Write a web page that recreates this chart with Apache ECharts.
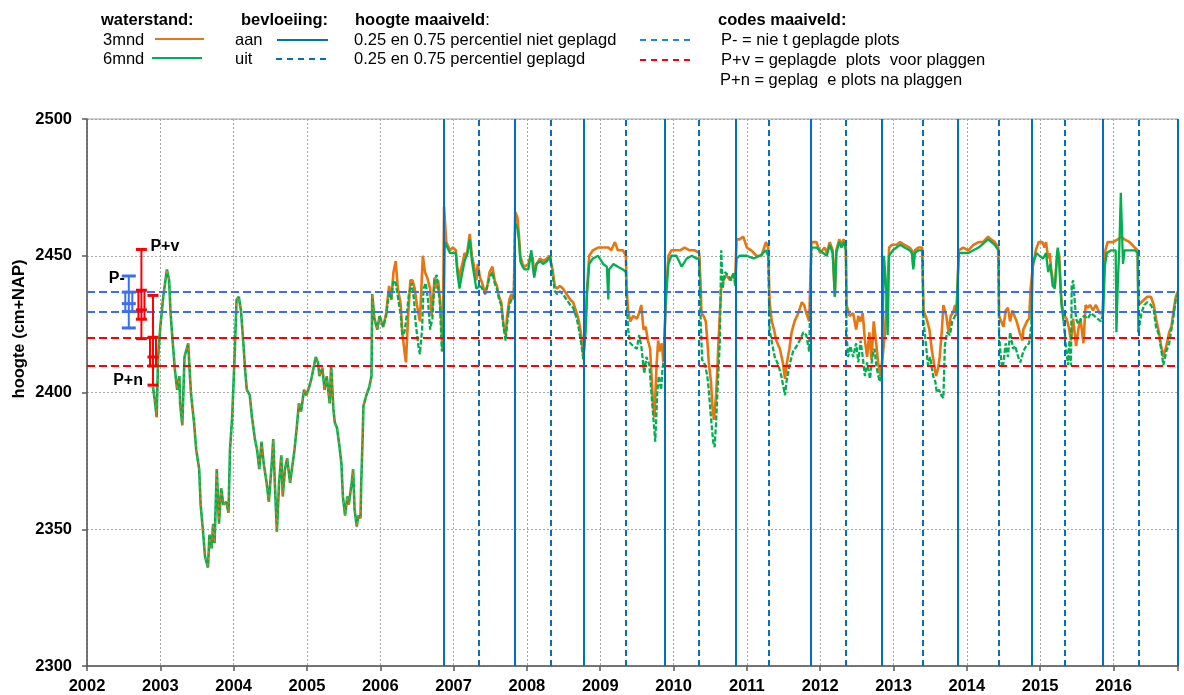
<!DOCTYPE html>
<html>
<head>
<meta charset="utf-8">
<title>waterstand</title>
<script src="https://cdn.jsdelivr.net/npm/echarts@6/dist/echarts.min.js"></script>
<style>
  html, body { margin: 0; padding: 0; background: #fff; }
  #chart { width: 1184px; height: 695px; }
</style>
</head>
<body>
<div id="chart"></div>
<script>
// 2002-2006: 3mnd en 6mnd vallen samen
var earlyLevel = [
  [2002.90,2402],[2002.93,2396],[2002.95,2391],[2002.97,2413],[2003.00,2424],[2003.04,2435],[2003.09,2445],
  [2003.12,2441],[2003.14,2429],[2003.17,2418],[2003.20,2408],[2003.23,2401],[2003.26,2406],[2003.27,2396],
  [2003.30,2388],[2003.33,2413],[2003.38,2418],[2003.40,2408],[2003.42,2399],[2003.46,2389],[2003.49,2379],
  [2003.53,2372],[2003.55,2359],[2003.58,2350],[2003.61,2340],[2003.65,2336],[2003.67,2348],[2003.70,2343],
  [2003.72,2352],[2003.74,2345],[2003.77,2372],[2003.80,2352],[2003.83,2365],[2003.86,2359],[2003.90,2360],
  [2003.93,2356],[2003.95,2379],[2003.98,2391],[2004.01,2411],[2004.04,2434],[2004.07,2435],[2004.10,2430],
  [2004.13,2419],[2004.16,2407],[2004.18,2401],[2004.22,2399],[2004.25,2391],[2004.29,2383],[2004.32,2379],
  [2004.35,2372],[2004.38,2382],[2004.41,2374],[2004.45,2367],[2004.48,2360],[2004.52,2374],[2004.54,2383],
  [2004.56,2368],[2004.59,2349],[2004.62,2367],[2004.65,2377],[2004.67,2362],[2004.70,2372],[2004.73,2376],
  [2004.77,2367],[2004.80,2373],[2004.83,2379],[2004.86,2387],[2004.89,2396],[2004.92,2393],[2004.96,2401],
  [2004.99,2399],[2005.03,2402],[2005.06,2405],[2005.09,2409],[2005.12,2413],[2005.15,2411],[2005.17,2406],
  [2005.21,2409],[2005.24,2401],[2005.27,2406],[2005.31,2396],[2005.33,2410],[2005.36,2394],[2005.38,2389],
  [2005.41,2387],[2005.44,2381],[2005.47,2374],[2005.49,2362],[2005.52,2355],[2005.55,2362],[2005.57,2359],
  [2005.61,2367],[2005.63,2372],[2005.65,2357],[2005.68,2351],[2005.70,2355],[2005.73,2354],[2005.74,2367],
  [2005.76,2384],[2005.77,2395],[2005.81,2399],[2005.85,2402],[2005.88,2406],[2005.89,2436],[2005.92,2427],
  [2005.96,2423],[2005.99,2428]
];

// waterstand 3mnd vanaf 2006
var level3mnd = [
  [2005.99,2428],[2006.04,2424],[2006.08,2429],[2006.12,2439],[2006.15,2434],[2006.18,2444],[2006.21,2448],
  [2006.24,2438],[2006.28,2432],[2006.30,2422],[2006.33,2415],[2006.35,2411],[2006.38,2428],[2006.41,2441],
  [2006.44,2441],[2006.47,2438],[2006.50,2432],[2006.54,2426],[2006.58,2450],[2006.61,2444],[2006.64,2442],
  [2006.68,2438],[2006.70,2428],[2006.72,2434],[2006.74,2442],[2006.77,2438],[2006.79,2441],[2006.81,2435],
  [2006.83,2428],[2006.85,2415],
  [2006.87,2468],[2006.90,2455],[2006.95,2452],[2006.99,2453],[2007.03,2452],[2007.05,2446],[2007.08,2441],
  [2007.09,2444],[2007.12,2447],[2007.15,2451],[2007.18,2450],[2007.22,2458],[2007.25,2450],[2007.28,2446],
  [2007.31,2441],[2007.33,2447],[2007.36,2442],[2007.39,2440],[2007.43,2436],[2007.46,2439],[2007.49,2444],
  [2007.53,2446],[2007.56,2441],[2007.59,2439],[2007.62,2435],[2007.65,2433],[2007.68,2425],[2007.71,2421],
  [2007.73,2428],[2007.76,2434],[2007.79,2436],[2007.82,2434],
  [2007.84,2466],[2007.87,2464],[2007.89,2458],[2007.91,2450],[2007.94,2447],[2007.97,2446],[2008.02,2447],
  [2008.06,2451],[2008.08,2449],[2008.10,2443],[2008.13,2447],[2008.18,2449],[2008.22,2448],[2008.27,2449],
  [2008.30,2450],[2008.32,2450],[2008.35,2445],[2008.38,2439],[2008.41,2438],[2008.45,2439],[2008.49,2438],
  [2008.54,2436],[2008.59,2434],[2008.63,2433],[2008.68,2429],[2008.71,2426],[2008.74,2421],[2008.77,2413],
  [2008.80,2425],[2008.82,2438],[2008.85,2450],[2008.90,2452],[2008.97,2453],[2009.04,2453],[2009.11,2453],
  [2009.15,2452],[2009.20,2455],[2009.24,2452],[2009.31,2452],[2009.35,2450],
  [2009.36,2438],[2009.38,2430],[2009.41,2426],[2009.45,2428],[2009.50,2427],[2009.53,2429],[2009.56,2432],
  [2009.59,2423],[2009.62,2424],[2009.65,2419],[2009.68,2416],[2009.70,2406],[2009.72,2396],[2009.74,2391],
  [2009.77,2411],[2009.79,2419],[2009.81,2415],[2009.84,2418],[2009.86,2411],[2009.88,2423],
  [2009.90,2438],[2009.93,2450],[2009.97,2452],[2010.02,2452],[2010.09,2452],[2010.15,2453],[2010.22,2452],
  [2010.29,2452],[2010.35,2451],
  [2010.37,2439],[2010.38,2429],[2010.41,2428],[2010.44,2426],[2010.46,2419],[2010.48,2411],[2010.51,2404],
  [2010.53,2395],[2010.55,2390],[2010.58,2399],[2010.60,2410],[2010.61,2417],[2010.63,2428],[2010.65,2438],
  [2010.68,2441],[2010.72,2443],[2010.77,2441],[2010.81,2443],[2010.84,2441],
  [2010.86,2456],[2010.90,2456],[2010.95,2457],[2011.00,2453],[2011.06,2452],[2011.13,2450],[2011.20,2450],
  [2011.26,2455],[2011.29,2453],
  [2011.31,2433],[2011.34,2426],[2011.37,2423],[2011.40,2419],[2011.45,2416],[2011.49,2411],[2011.52,2405],
  [2011.54,2410],[2011.58,2416],[2011.61,2422],[2011.65,2426],[2011.70,2429],[2011.75,2433],[2011.78,2432],
  [2011.81,2429],[2011.85,2426],
  [2011.88,2455],[2011.95,2455],[2012.00,2451],[2012.06,2453],[2012.09,2451],[2012.13,2455],[2012.17,2452],
  [2012.20,2435],[2012.22,2452],[2012.26,2456],[2012.29,2454],[2012.32,2456],[2012.35,2453],
  [2012.36,2432],[2012.40,2428],[2012.45,2429],[2012.49,2423],[2012.52,2428],[2012.55,2426],[2012.58,2429],
  [2012.61,2419],[2012.64,2413],[2012.67,2422],[2012.70,2412],[2012.73,2426],[2012.76,2419],[2012.79,2411],
  [2012.82,2406],[2012.84,2410],[2012.88,2421],[2012.92,2440],[2012.94,2453],[2012.98,2454],
  [2013.04,2454],[2013.09,2455],[2013.15,2454],[2013.22,2453],[2013.25,2452],[2013.27,2446],[2013.29,2452],
  [2013.34,2453],[2013.39,2453],
  [2013.41,2430],[2013.45,2427],[2013.49,2423],[2013.52,2416],[2013.55,2411],[2013.58,2406],[2013.61,2409],
  [2013.63,2413],[2013.66,2423],[2013.68,2432],[2013.72,2428],[2013.75,2422],[2013.78,2428],[2013.81,2429],
  [2013.84,2432],[2013.86,2428],
  [2013.89,2452],[2013.95,2453],[2014.02,2452],[2014.09,2454],[2014.16,2455],[2014.22,2455],[2014.29,2457],
  [2014.33,2456],[2014.38,2455],[2014.43,2453],
  [2014.44,2428],[2014.47,2426],[2014.50,2424],[2014.53,2430],[2014.56,2431],[2014.59,2426],[2014.62,2430],
  [2014.65,2428],[2014.68,2426],[2014.72,2422],[2014.76,2419],[2014.77,2423],[2014.82,2426],[2014.85,2427],
  [2014.87,2438],
  [2014.90,2446],[2014.94,2452],[2014.98,2455],[2015.03,2455],[2015.06,2453],[2015.08,2455],[2015.11,2449],
  [2015.13,2451],[2015.15,2445],[2015.18,2440],[2015.20,2439],[2015.22,2446],[2015.24,2452],[2015.26,2450],
  [2015.29,2434],[2015.31,2430],[2015.33,2428],[2015.36,2427],[2015.39,2424],[2015.42,2419],[2015.45,2427],
  [2015.49,2417],[2015.52,2423],[2015.55,2427],[2015.59,2418],[2015.62,2432],[2015.65,2431],[2015.68,2432],
  [2015.72,2430],[2015.76,2432],[2015.81,2429],[2015.85,2429],
  [2015.87,2441],[2015.89,2452],[2015.92,2455],[2015.99,2455],[2016.06,2456],[2016.10,2457],[2016.15,2456],
  [2016.22,2455],[2016.29,2453],[2016.33,2452],
  [2016.34,2432],[2016.38,2433],[2016.42,2434],[2016.46,2435],[2016.51,2435],[2016.55,2432],[2016.58,2427],
  [2016.62,2422],[2016.65,2417],[2016.68,2413],[2016.72,2417],[2016.76,2422],[2016.79,2424],[2016.82,2430],
  [2016.85,2435],[2016.88,2437]
];

// waterstand 6mnd vanaf 2006
var level6mnd = [
  [2005.99,2428],[2006.04,2424],[2006.08,2428],[2006.12,2437],[2006.15,2434],[2006.18,2441],[2006.21,2440],
  [2006.24,2435],[2006.28,2428],[2006.30,2421],[2006.33,2422],[2006.36,2428],[2006.39,2436],[2006.43,2440],
  [2006.46,2434],[2006.48,2426],[2006.52,2417],[2006.54,2414],[2006.57,2423],[2006.59,2438],[2006.62,2440],
  [2006.65,2434],[2006.68,2423],[2006.71,2427],[2006.74,2441],[2006.77,2443],[2006.79,2438],[2006.81,2434],
  [2006.84,2415],[2006.86,2420],
  [2006.88,2455],[2006.95,2451],[2007.03,2451],[2007.05,2444],[2007.08,2438],[2007.12,2444],[2007.15,2448],
  [2007.19,2451],[2007.22,2456],[2007.25,2448],[2007.28,2443],[2007.31,2438],[2007.36,2439],[2007.39,2438],
  [2007.43,2436],[2007.46,2439],[2007.49,2442],[2007.53,2444],[2007.56,2440],[2007.59,2438],[2007.62,2434],
  [2007.65,2432],[2007.68,2424],[2007.71,2419],[2007.73,2425],[2007.76,2432],[2007.79,2434],[2007.82,2434],
  [2007.84,2462],[2007.87,2460],[2007.89,2456],[2007.91,2448],[2007.94,2446],[2007.97,2445],[2008.02,2445],
  [2008.06,2452],[2008.08,2446],[2008.10,2442],[2008.13,2447],[2008.18,2448],[2008.22,2447],[2008.27,2448],
  [2008.30,2449],[2008.32,2450],[2008.35,2443],[2008.38,2437],[2008.41,2436],[2008.45,2437],[2008.49,2436],
  [2008.54,2434],[2008.59,2432],[2008.63,2431],[2008.68,2427],[2008.71,2423],[2008.74,2418],[2008.77,2412],
  [2008.80,2422],[2008.82,2436],[2008.85,2447],[2008.90,2449],[2008.97,2450],[2009.04,2447],[2009.09,2446],
  [2009.10,2446],[2009.11,2434],[2009.12,2445],[2009.18,2447],[2009.24,2446],[2009.31,2445],[2009.35,2444],
  [2009.36,2434],[2009.38,2423],[2009.41,2418],[2009.45,2417],[2009.50,2416],[2009.53,2421],[2009.56,2417],
  [2009.60,2407],[2009.63,2413],[2009.67,2410],[2009.70,2399],[2009.73,2389],[2009.75,2382],[2009.78,2401],
  [2009.80,2406],[2009.83,2401],[2009.85,2409],[2009.87,2412],[2009.89,2432],
  [2009.93,2447],[2009.97,2450],[2010.04,2450],[2010.11,2446],[2010.18,2449],[2010.25,2450],[2010.31,2449],
  [2010.35,2449],
  [2010.37,2426],[2010.39,2412],[2010.43,2410],[2010.46,2406],[2010.48,2401],[2010.51,2391],[2010.54,2382],
  [2010.56,2380],[2010.58,2389],[2010.60,2401],[2010.63,2418],[2010.65,2452],[2010.67,2438],[2010.70,2444],
  [2010.74,2443],[2010.79,2441],[2010.82,2444],[2010.84,2439],
  [2010.86,2449],[2010.90,2450],[2011.00,2450],[2011.09,2449],[2011.18,2450],[2011.26,2452],[2011.29,2450],
  [2011.31,2423],[2011.35,2417],[2011.38,2413],[2011.43,2410],[2011.47,2406],[2011.52,2399],[2011.54,2404],
  [2011.59,2411],[2011.63,2415],[2011.68,2417],[2011.72,2419],[2011.77,2422],[2011.81,2421],[2011.85,2415],
  [2011.88,2453],[2011.95,2453],[2012.04,2451],[2012.09,2450],[2012.13,2454],[2012.17,2451],[2012.20,2435],
  [2012.22,2451],[2012.26,2455],[2012.29,2453],[2012.32,2455],[2012.35,2452],
  [2012.36,2421],[2012.38,2413],[2012.41,2417],[2012.45,2413],[2012.49,2418],[2012.52,2411],[2012.55,2419],
  [2012.58,2413],[2012.61,2406],[2012.64,2411],[2012.68,2405],[2012.71,2413],[2012.74,2416],[2012.77,2409],
  [2012.81,2404],[2012.84,2406],[2012.87,2450],[2012.90,2438],[2012.92,2421],[2012.94,2450],[2012.99,2452],
  [2013.04,2453],[2013.09,2454],[2013.15,2453],[2013.22,2452],[2013.25,2451],[2013.27,2445],[2013.29,2451],
  [2013.34,2452],[2013.39,2452],
  [2013.41,2426],[2013.44,2418],[2013.47,2410],[2013.50,2413],[2013.54,2406],[2013.57,2404],[2013.59,2400],
  [2013.62,2401],[2013.65,2399],[2013.68,2398],[2013.70,2417],[2013.73,2422],[2013.77,2421],[2013.80,2426],
  [2013.84,2428],[2013.86,2431],
  [2013.89,2451],[2014.02,2451],[2014.16,2453],[2014.29,2456],[2014.38,2454],[2014.43,2452],
  [2014.44,2421],[2014.47,2411],[2014.49,2409],[2014.53,2418],[2014.56,2413],[2014.59,2422],[2014.63,2416],
  [2014.66,2417],[2014.70,2413],[2014.73,2411],[2014.77,2415],[2014.81,2417],[2014.85,2418],[2014.88,2425],
  [2014.90,2447],[2014.95,2451],[2014.99,2450],[2015.04,2449],[2015.08,2451],[2015.11,2444],[2015.14,2447],
  [2015.17,2439],[2015.20,2438],[2015.23,2451],[2015.24,2453],[2015.26,2447],
  [2015.29,2432],[2015.32,2426],[2015.35,2417],[2015.38,2410],[2015.40,2419],[2015.42,2410],[2015.43,2439],
  [2015.45,2441],[2015.49,2427],[2015.52,2425],[2015.56,2427],[2015.60,2428],[2015.65,2427],[2015.69,2429],
  [2015.74,2428],[2015.78,2427],[2015.83,2426],[2015.86,2429],
  [2015.88,2446],[2015.91,2451],[2015.97,2452],[2016.03,2452],[2016.04,2422],[2016.06,2441],[2016.08,2453],
  [2016.10,2473],[2016.13,2447],[2016.15,2452],[2016.22,2452],[2016.29,2452],[2016.33,2451],
  [2016.34,2422],[2016.38,2429],[2016.42,2432],[2016.46,2433],[2016.51,2432],[2016.55,2430],[2016.58,2424],
  [2016.62,2421],[2016.65,2416],[2016.68,2410],[2016.72,2415],[2016.76,2418],[2016.79,2423],[2016.82,2428],
  [2016.85,2434],[2016.88,2436]
];

// bevloeiing aan / uit
var aanDates = [2006.865, 2007.835, 2008.777, 2009.878, 2010.848, 2011.866, 2012.84, 2013.874, 2014.884, 2015.86, 2016.876];
var uitDates = [2007.344, 2008.322, 2009.345, 2010.342, 2011.297, 2012.346, 2013.397, 2014.434, 2015.325, 2016.34];

// hoogte maaiveld (P-, P+v, P+n)
var mvCodes = ['P-', 'P+v', 'P+n'];
var mvX = [2002.57, 2002.742, 2002.90];
var mvMin = [2423.6, 2419.7, 2402.7];
var mvQ1 = [2429.6, 2426.8, 2409.7];
var mvMed = [2432.5, 2430.2, 2413.0];
var mvQ3 = [2436.7, 2437.4, 2420.2];
var mvMax = [2442.6, 2452.3, 2435.5];

var FONT = 'Liberation Sans, Arial, sans-serif';
var ORANGE = '#E8750F';
var GREEN = '#00B050';
var BLUE = '#0070C0';
var BLUE2 = '#3D6EF2';
var RED = '#FF0000';

// groene lijn: gestippeld in de "uit" periodes
function isUit(t) {
  if (t < aanDates[0]) return true;
  var last = 'aan', lt = -1;
  aanDates.forEach(function (d) { if (d <= t && d > lt) { lt = d; last = 'aan'; } });
  uitDates.forEach(function (d) { if (d <= t && d > lt) { lt = d; last = 'uit'; } });
  return last === 'uit';
}
function splitRuns(pts) {
  var solid = [], dashed = [], cur = null;
  for (var i = 1; i < pts.length; i++) {
    var d = isUit((pts[i - 1][0] + pts[i][0]) / 2);
    if (!cur || cur.d !== d) {
      if (cur) (cur.d ? dashed : solid).push([cur.last, null]);
      cur = { d: d };
      (d ? dashed : solid).push(pts[i - 1]);
    }
    (d ? dashed : solid).push(pts[i]);
    cur.last = pts[i][0];
  }
  return { solid: solid, dashed: dashed };
}
var greenRuns = splitRuns(level6mnd);

var chart = echarts.init(document.getElementById('chart'));

function txt(x, y, text, bold, extra) {
  var s = { text: text, x: x, y: y, fill: '#000', font: (bold ? 'bold ' : '') + '16.5px ' + FONT, verticalAlign: 'middle', align: 'left' };
  if (extra) for (var k in extra) s[k] = extra[k];
  return { type: 'text', silent: true, style: s };
}
function seg(x1, x2, y, color, dash) {
  return { type: 'line', silent: true, shape: { x1: x1, y1: y, x2: x2, y2: y }, style: { stroke: color, lineWidth: 2, lineDash: dash || null } };
}

var option = {
  animation: false,
  backgroundColor: '#fff',
  textStyle: { fontFamily: FONT },
  grid: { left: 87, right: 6, top: 119, bottom: 27, show: true, borderColor: '#a0a0a0', borderWidth: 1 },
  xAxis: {
    type: 'value', min: 2002, max: 2016.88, interval: 1,
    axisLine: { show: true, onZero: false, lineStyle: { color: '#595959', width: 1.5 } },
    axisTick: { show: true, length: 5, lineStyle: { color: '#595959', width: 1.5 } },
    axisLabel: {
      color: '#000', fontWeight: 'bold', fontSize: 16.5, margin: 12, fontFamily: FONT,
      formatter: function (v) { return Math.abs(v - Math.round(v)) < 1e-6 ? String(Math.round(v)) : ''; }
    },
    splitLine: { show: true, lineStyle: { color: '#a6a6a6', width: 1, type: [2, 2] } }
  },
  yAxis: {
    type: 'value', min: 2300, max: 2500, interval: 50,
    axisLine: { show: true, onZero: false, lineStyle: { color: '#595959', width: 1.5 } },
    axisTick: { show: true, length: 5, lineStyle: { color: '#595959', width: 1.5 } },
    axisLabel: { color: '#000', fontWeight: 'bold', fontSize: 16.5, margin: 15, fontFamily: FONT,
      formatter: function (v) { return String(Math.round(v)); } },
    splitLine: { show: true, lineStyle: { color: '#a6a6a6', width: 1, type: [2, 2] } }
  },
  graphic: [
    { type: 'text', x: 19, y: 329, rotation: Math.PI / 2, silent: true,
      style: { text: 'hoogte (cm+NAP)', fill: '#000', font: 'bold 16.5px ' + FONT, align: 'center', verticalAlign: 'middle' } },
    txt(101, 20, 'waterstand:', true),
    txt(103, 40, '3mnd'), seg(155, 204, 39, ORANGE),
    txt(103, 59, '6mnd'), seg(152, 202, 58, GREEN),
    txt(241, 20, 'bevloeiing:', true),
    txt(235, 40, 'aan'), seg(277, 328, 40, BLUE),
    txt(235, 59, 'uit'), seg(276, 328, 59, BLUE, [6, 5]),
    { type: 'text', silent: true, style: { x: 355, y: 20, text: '{b|hoogte maaiveld}:', fill: '#000', font: '16.5px ' + FONT, verticalAlign: 'middle',
      rich: { b: { fontWeight: 'bold', fontSize: 16.5, fontFamily: FONT } } } },
    txt(354, 40, '0.25 en 0.75 percentiel niet geplagd'),
    txt(354, 59, '0.25 en 0.75 percentiel geplagd'),
    seg(640, 691, 40, '#1f87e0', [6, 5]),
    seg(640, 691, 60, RED, [6, 5]),
    txt(718, 20, 'codes maaiveld:', true),
    txt(721, 40, 'P- = nie t geplagde plots'),
    txt(721, 60, 'P+v = geplagde  plots  voor plaggen'),
    txt(720, 80, 'P+n = geplag  e plots na plaggen')
  ],
  series: [
    { name: '6mnd vroeg', type: 'line', data: earlyLevel, showSymbol: false, symbol: 'none', z: 2,
      lineStyle: { color: GREEN, width: 2.6 } },
    { name: '3mnd vroeg', type: 'line', data: earlyLevel, showSymbol: false, symbol: 'none', z: 3,
      lineStyle: { color: ORANGE, width: 1.3, type: [3, 3] } },
    { name: '3mnd', type: 'line', data: level3mnd, showSymbol: false, symbol: 'none', z: 3,
      lineStyle: { color: ORANGE, width: 2.6 } },
    { name: '6mnd aan', type: 'line', data: greenRuns.solid, showSymbol: false, symbol: 'none', connectNulls: false, z: 4,
      lineStyle: { color: GREEN, width: 2.3 } },
    { name: '6mnd uit', type: 'line', data: greenRuns.dashed, showSymbol: false, symbol: 'none', connectNulls: false, z: 4,
      lineStyle: { color: GREEN, width: 2.3, type: [5, 2] } },
    { name: 'referentie', type: 'line', data: [], z: 6,
      markLine: {
        silent: true, symbol: 'none', animation: false, label: { show: false },
        data: [
          { yAxis: mvQ3[0], lineStyle: { color: BLUE2, width: 1.8, type: [8, 4] } },
          { yAxis: mvQ1[0], lineStyle: { color: BLUE2, width: 1.8, type: [8, 4] } },
          { yAxis: mvQ3[2], lineStyle: { color: RED, width: 1.8, type: [8, 4] } },
          { yAxis: mvQ1[2], lineStyle: { color: RED, width: 1.8, type: [8, 4] } }
        ].concat(aanDates.map(function (d) {
          return { xAxis: d, lineStyle: { color: BLUE, width: 2, type: 'solid' } };
        })).concat(uitDates.map(function (d) {
          return { xAxis: d, lineStyle: { color: BLUE, width: 2, type: [6, 4] } };
        }))
      }
    },
    { name: 'maaiveld', type: 'custom', z: 7, silent: true,
      data: mvX.map(function (x, i) { return [x, mvMin[i], mvQ1[i], mvMed[i], mvQ3[i], mvMax[i]]; }),
      renderItem: function (params, api) {
        var i = params.dataIndex;
        var x = api.value(0);
        var color = i === 0 ? BLUE2 : RED;
        var cap = i === 0 ? 7 : 5.5;
        var box = i === 0 ? 3.5 : 3;
        var pt = function (k) { return api.coord([x, api.value(k)]); };
        var lo = pt(1), q1 = pt(2), md = pt(3), q3 = pt(4), hi = pt(5);
        var ln = function (x1, y1, x2, y2, w) {
          return { type: 'line', shape: { x1: x1, y1: y1, x2: x2, y2: y2 }, style: { stroke: color, lineWidth: w } };
        };
        var kids = [ln(lo[0], lo[1], hi[0], hi[1], 2)];
        [lo, q1, md, q3, hi].forEach(function (p) { kids.push(ln(p[0] - cap, p[1], p[0] + cap, p[1], 3)); });
        kids.push(ln(q1[0] - box, q1[1], q3[0] - box, q3[1], 2));
        kids.push(ln(q1[0] + box, q1[1], q3[0] + box, q3[1], 2));
        var lab;
        if (i === 0) lab = { x: hi[0] - 4, y: hi[1] + 3, align: 'right' };
        else if (i === 1) lab = { x: hi[0] + 9, y: hi[1] - 3, align: 'left' };
        else lab = { x: lo[0] - 10, y: lo[1] - 5, align: 'right' };
        kids.push({ type: 'text', style: { text: mvCodes[i], x: lab.x, y: lab.y, align: lab.align, verticalAlign: 'middle',
          fill: '#000', font: 'bold 16px ' + FONT } });
        return { type: 'group', children: kids };
      }
    }
  ]
};

chart.setOption(option);
</script>
</body>
</html>
